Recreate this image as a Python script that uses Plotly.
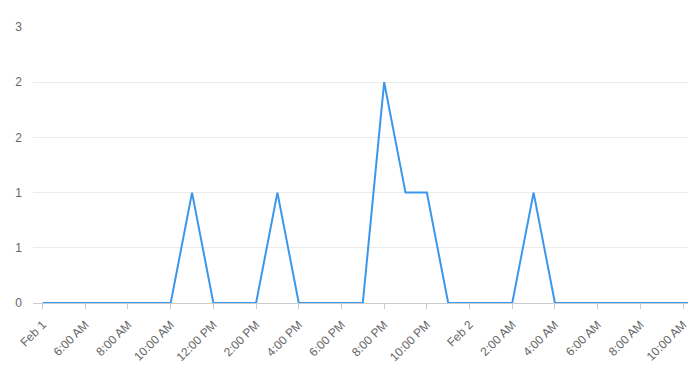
import plotly.graph_objects as go
import pandas as pd

# Hourly timestamps Feb 1 04:00 -> Feb 2 10:00, plus a final reading at 10:14
times = list(pd.date_range("2024-02-01 04:00", "2024-02-02 10:00", freq="h")) + [pd.Timestamp("2024-02-02 10:14")]
values = [0, 0, 0, 0, 0, 0, 0,   # 4-10 AM
          1, 0, 0, 0,            # 11 AM - 2 PM
          1, 0, 0, 0, 0,         # 3 PM - 7 PM
          2, 1, 1, 0,            # 8 PM - 11 PM
          0, 0, 0, 1, 0,         # 12 AM - 4 AM
          0, 0, 0, 0, 0, 0,      # 5 AM - 10 AM
          0]

tick_vals = list(pd.date_range("2024-02-01 04:00", "2024-02-02 10:00", freq="2h"))
tick_text = ["Feb 1", "6:00 AM", "8:00 AM", "10:00 AM", "12:00 PM", "2:00 PM",
             "4:00 PM", "6:00 PM", "8:00 PM", "10:00 PM", "Feb 2", "2:00 AM",
             "4:00 AM", "6:00 AM", "8:00 AM", "10:00 AM"]

y_tick_vals = [0, 0.5, 1, 1.5, 2, 2.5]
y_tick_text = ["0", "1", "1", "2", "2", "3"]

x_start = pd.Timestamp("2024-02-01 03:33")
x_end = pd.Timestamp("2024-02-02 10:14")

fig = go.Figure(go.Scatter(
    x=times, y=values, mode="lines",
    line=dict(color="#3A98EC", width=2),
    hoverinfo="skip",
))

fig.update_layout(
    width=695, height=376,
    margin=dict(l=33, r=7, t=27, b=73),
    plot_bgcolor="white", paper_bgcolor="white",
    showlegend=False,
    font=dict(family="Arial, Liberation Sans, sans-serif", size=12, color="#666666"),
)
fig.update_xaxes(
    range=[x_start, x_end],
    tickmode="array", tickvals=tick_vals, ticktext=tick_text,
    tickangle=-45, ticks="outside", ticklen=5, tickcolor="#cccccc",
    showgrid=False, showline=True, linecolor="#cccccc", linewidth=1,
    zeroline=False, ticklabelstandoff=4,
    tickfont=dict(size=12, color="#666666"),
)
fig.update_yaxes(
    range=[0, 2.5],
    tickmode="array", tickvals=y_tick_vals, ticktext=y_tick_text,
    showgrid=True, gridcolor="#ebebeb", gridwidth=1,
    zeroline=False, showline=False, ticks="",
    ticklabelstandoff=10,
    tickfont=dict(size=12, color="#666666"),
)

fig.write_html("out.html")
